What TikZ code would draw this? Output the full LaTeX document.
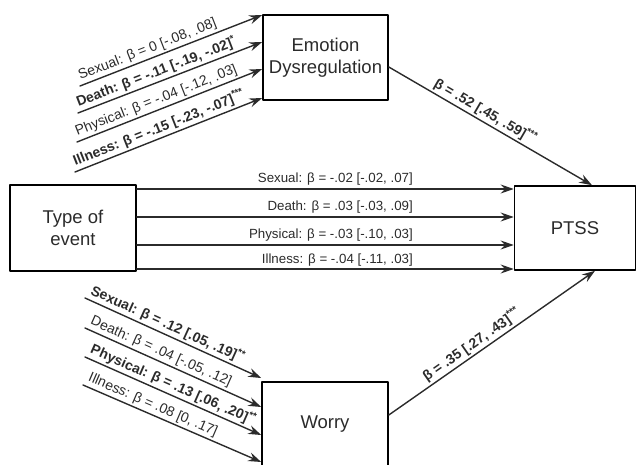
\documentclass[tikz,border=0pt]{standalone}
\usepackage{fontspec}
\setmainfont{Liberation Sans}
\usetikzlibrary{arrows.meta,calc}

\definecolor{inkgray}{HTML}{2B2B2B}
\tikzset{
  varbox/.style={draw=black,line width=1.6pt,fill=white,minimum width=125pt,minimum height=85pt,
    align=center,inner sep=0pt,text=inkgray,font=\fontsize{18.5}{22}\selectfont},
  effect/.style={draw=inkgray,line width=1.4pt,-{Stealth[length=13pt,width=9pt,inset=4.5pt]}},
  coef/.style={text=inkgray,inner sep=2pt,font=\fontsize{13.3}{15}\selectfont},
  slopecoef/.style={coef,font=\fontsize{14}{16}\selectfont},
  sigcoef/.style={coef,font=\fontsize{14}{16}\selectfont\bfseries}
}

\begin{document}
\begin{tikzpicture}[line cap=round,line join=round,x=1pt,y=-1pt]
\useasboundingbox (0,0) rectangle (637,465);
\clip (0,0) rectangle (637,465);
% variables
\node[varbox] (emo) at (325.5,57.5) {Emotion\\Dysregulation};
\node[varbox,minimum width=126pt,minimum height=86pt] (type) at (73,228) {Type of\\event};
\node[varbox,minimum width=121pt,minimum height=84pt] (ptss) at (575,228) {PTSS};
\node[varbox,minimum width=126pt] (worry) at (325,424.5) {Worry};
% direct effects
\coordinate (h1) at (0,189);
\coordinate (h2) at (0,217);
\coordinate (h3) at (0,245);
\coordinate (h4) at (0,269);
\draw [effect] (type.east |- h1) -- (ptss.west |- h1);
\draw [effect] (type.east |- h2) -- (ptss.west |- h2);
\draw [effect] (type.east |- h3) -- (ptss.west |- h3);
\draw [effect] (type.east |- h4) -- (ptss.west |- h4);
\node[coef,anchor=base east] (d1) at (415,183) {Sexual: β = -.02 [-.02, .07]};
\node[coef,anchor=base east] (d2) at (415,211) {Death: β = .03 [-.03, .09]};
\node[coef,anchor=base east] (d3) at (415,239) {Physical: β = -.03 [-.10, .03]};
\node[coef,anchor=base east] (d4) at (415,263) {Illness: β = -.04 [-.11, .03]};
% a paths to emotion dysregulation
\coordinate (a1) at (80,86);
\coordinate (a2) at (78,113);
\coordinate (a3) at (77,142);
\coordinate (a4) at (75,172);
\coordinate (ae1) at (0,15);
\coordinate (ae2) at (0,42);
\coordinate (ae3) at (0,69);
\coordinate (ae4) at (0,98);
\draw [effect] (a1) -- (emo.west |- ae1) node[slopecoef,pos=0,sloped,anchor=south west] {Sexual: β = 0 [-.08, .08]};
\draw [effect] (a2) -- (emo.west |- ae2) node[sigcoef,pos=0,sloped,anchor=south west] {Death: β = -.11 [-.19, -.02]\textsuperscript{*}};
\draw [effect] (a3) -- (emo.west |- ae3) node[slopecoef,pos=0,sloped,anchor=south west] {Physical: β = -.04 [-.12, .03]};
\draw [effect] (a4) -- (emo.west |- ae4) node[sigcoef,pos=0,sloped,anchor=south west] {Illness: β = -.15 [-.23, -.07]\textsuperscript{***}};
% a paths to worry
\coordinate (w1) at (85,298);
\coordinate (w2) at (85,328);
\coordinate (w3) at (85,357);
\coordinate (w4) at (83,385);
\coordinate (we1) at (0,378);
\coordinate (we2) at (0,407);
\coordinate (we3) at (0,435);
\coordinate (we4) at (0,462);
\draw [effect] (w1) -- (worry.west |- we1) node[sigcoef,pos=0,sloped,anchor=south west] {Sexual: β = .12 [.05, .19]\textsuperscript{**}};
\draw [effect] (w2) -- (worry.west |- we2) node[slopecoef,pos=0,sloped,anchor=south west] {Death: β = .04 [-.05, .12]};
\draw [effect] (w3) -- (worry.west |- we3) node[sigcoef,pos=0,sloped,anchor=south west] {Physical: β = .13 [.06, .20]\textsuperscript{**}};
\draw [effect] (w4) -- (worry.west |- we4) node[slopecoef,pos=0,sloped,anchor=south west] {Illness: β = .08 [0, .17]};
% b paths
\coordinate (b1) at (0,67);
\coordinate (b1e) at (592,0);
\coordinate (b2) at (0,415);
\coordinate (b2e) at (595,0);
\draw [effect] (emo.east |- b1) -- (ptss.north -| b1e) node[sigcoef,pos=0.45,sloped,above] {β = .52 [.45, .59]\textsuperscript{***}};
\draw [effect] (worry.east |- b2) -- (ptss.south -| b2e) node[sigcoef,pos=0.43,sloped,above] {β = .35 [.27, .43]\textsuperscript{***}};
\end{tikzpicture}
\end{document}
